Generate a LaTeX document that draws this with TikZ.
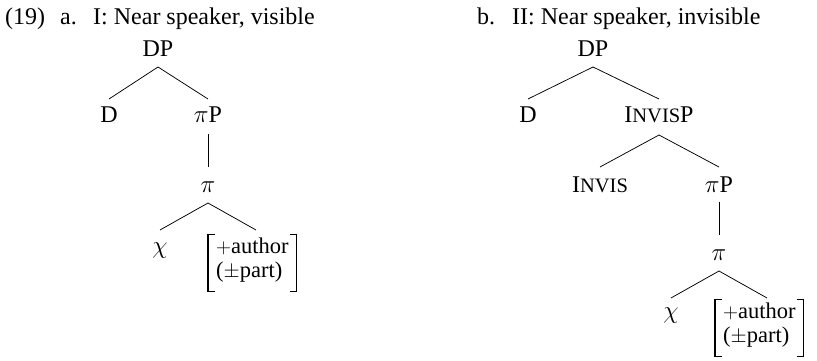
\documentclass[tikz,border=0pt]{standalone}
\usepackage{fontspec}
\setmainfont{Liberation Serif}
\newcommand{\fakesc}[1]{{\fontsize{20.5}{22}\selectfont #1}}
\newcommand{\featbox}{\begin{tabular}[t]{@{}l@{}}$+$author\\($\pm$part)\end{tabular}}
\begin{document}
\begin{tikzpicture}[x=1pt,y=-1pt,
  every node/.style={font=\fontsize{24}{26}\selectfont},
  tn/.style={inner sep=0pt, anchor=base},
  lbl/.style={inner sep=0pt, anchor=base west},
  feat/.style={inner xsep=8pt, inner ysep=1.5pt, anchor=base west, font=\fontsize{22.5}{24}\selectfont},
  br/.style={line width=1.1pt},
  edge/.style={line width=0.75pt}]
\useasboundingbox (0,0) rectangle (817,361);
% headings
\node[lbl] (n19) at (5,25) {(19)};
\node[lbl] (na) at (60,25) {a.};
\node[lbl] (ta) at (93,25) {I: Near speaker, visible};
\node[lbl] (nb) at (477,25) {b.};
\node[lbl] (tb) at (512,25) {II: Near speaker, invisible};
% left tree
\node[tn] (aDP) at (158,57) {DP};
\node[tn] (aD) at (109,122) {D};
\node[tn] (apiP) at (208,122) {$\pi$P};
\node[tn] (api) at (208,192) {$\pi$};
\node[tn] (achi) at (160,253) {$\chi$};
\node[feat] (aF) at (208,253) {\featbox};
\draw[br] ([xshift=7pt]aF.north west) -- (aF.north west) -- ([yshift=-6pt]aF.south west) -- ([xshift=7pt,yshift=-6pt]aF.south west);
\draw[br] ([xshift=-7pt]aF.north east) -- (aF.north east) -- ([yshift=-6pt]aF.south east) -- ([xshift=-7pt,yshift=-6pt]aF.south east);
\draw[edge] ([yshift=-10pt]aDP.base) -- ([yshift=23pt]aD.base);
\draw[edge] ([yshift=-10pt]aDP.base) -- ([yshift=23pt]apiP.base);
\draw[edge] ([yshift=-12pt]apiP.base) -- ([yshift=25pt]api.base);
\draw[edge] ([yshift=-11pt]api.base) -- ([yshift=23pt]achi.base);
\draw[edge] ([yshift=-11pt]api.base) -- ([xshift=48pt,yshift=-38pt]api.base);
% right tree
\node[tn] (bDP) at (593,57) {DP};
\node[tn] (bD) at (528,122) {D};
\node[tn] (bIP) at (659,122) {I\fakesc{NVIS}P};
\node[tn] (bI) at (600,192) {I\fakesc{NVIS}};
\node[tn] (bpiP) at (719,192) {$\pi$P};
\node[tn] (bpi) at (719,260) {$\pi$};
\node[tn] (bchi) at (671,318) {$\chi$};
\node[feat] (bF) at (715,318) {\featbox};
\draw[br] ([xshift=7pt]bF.north west) -- (bF.north west) -- ([yshift=-6pt]bF.south west) -- ([xshift=7pt,yshift=-6pt]bF.south west);
\draw[br] ([xshift=-7pt]bF.north east) -- (bF.north east) -- ([yshift=-6pt]bF.south east) -- ([xshift=-7pt,yshift=-6pt]bF.south east);
\draw[edge] ([yshift=-10pt]bDP.base) -- ([yshift=23pt]bD.base);
\draw[edge] ([yshift=-10pt]bDP.base) -- ([yshift=23pt]bIP.base);
\draw[edge] ([yshift=-13pt]bIP.base) -- ([yshift=25pt]bI.base);
\draw[edge] ([yshift=-13pt]bIP.base) -- ([yshift=25pt]bpiP.base);
\draw[edge] ([yshift=-10pt]bpiP.base) -- ([yshift=25pt]bpi.base);
\draw[edge] ([yshift=-11pt]bpi.base) -- ([yshift=20pt]bchi.base);
\draw[edge] ([yshift=-11pt]bpi.base) -- ([xshift=48pt,yshift=-38pt]bpi.base);
\end{tikzpicture}
\end{document}
